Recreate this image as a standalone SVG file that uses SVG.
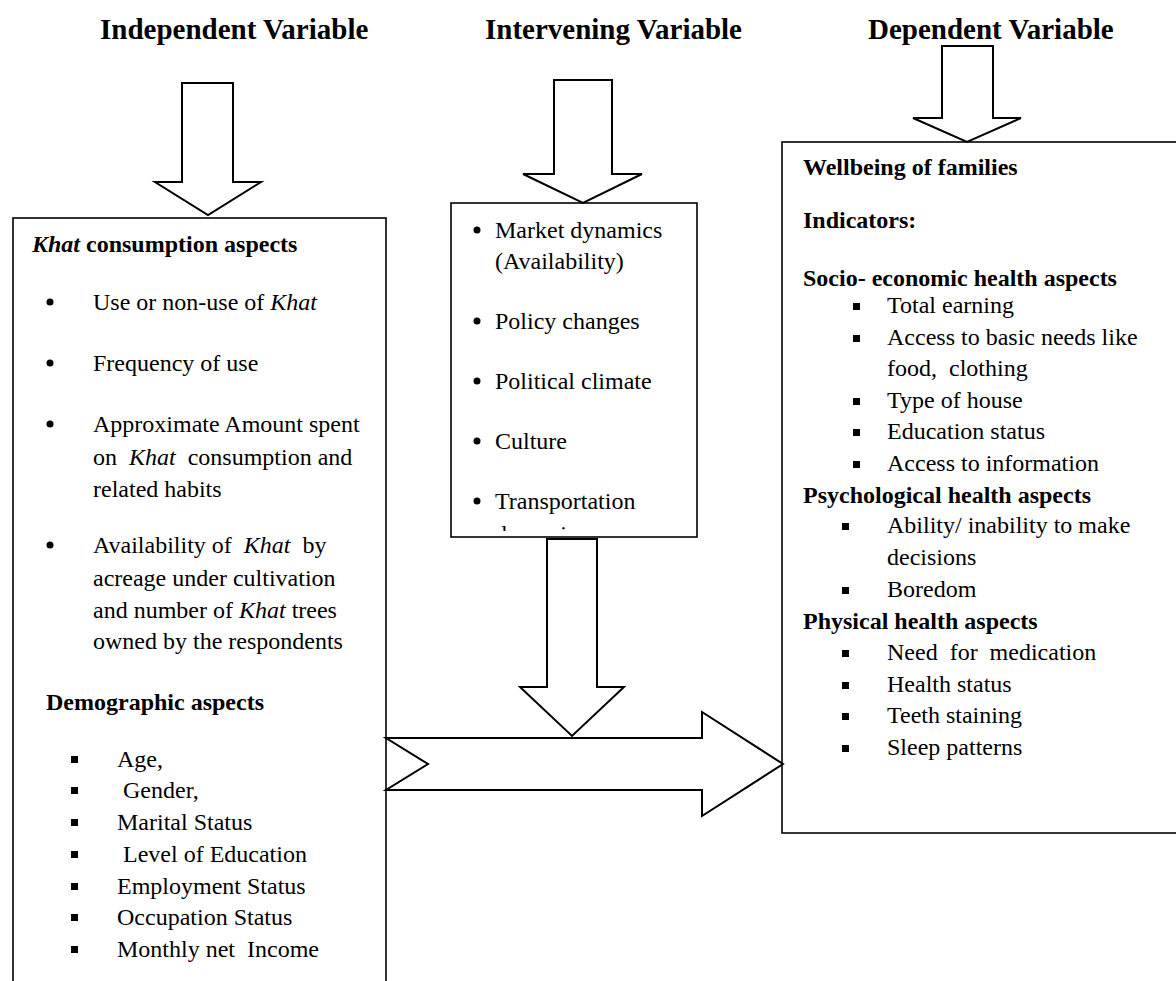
<svg xmlns="http://www.w3.org/2000/svg" width="1176" height="981" viewBox="0 0 1176 981">
<style>
text{font-family:"Liberation Serif","Times New Roman",serif;font-size:24px;fill:#000;white-space:pre}
.t{font-size:29px;font-weight:bold}
.b{font-weight:bold}
.i{font-style:italic}
.box{fill:#fff;stroke:#000;stroke-width:1.6}
.arr{fill:#fff;stroke:#000;stroke-width:2;stroke-linejoin:miter}
.sq{fill:#000}
</style>
<defs>
<clipPath id="clipMid"><rect x="451" y="203" width="246" height="328"/></clipPath>
</defs>
<rect width="1176" height="981" fill="#fff"/>

<g id="titles">
<text class="t" x="100" y="39">Independent Variable</text>
<text class="t" x="485" y="39">Intervening Variable</text>
<text class="t" x="868" y="39">Dependent Variable</text>
</g>

<g id="independent">
<rect class="box" x="13" y="218" width="373" height="780"/>
<text x="32" y="252"><tspan class="b i">Khat</tspan><tspan class="b"> consumption aspects</tspan></text>
<circle cx="50" cy="302" r="3.5"/>
<text x="93" y="310">Use or non-use of <tspan class="i">Khat</tspan></text>
<circle cx="50" cy="363" r="3.5"/>
<text x="93" y="371">Frequency of use</text>
<circle cx="50" cy="424" r="3.5"/>
<text x="93" y="432">Approximate Amount spent</text>
<text x="93" y="465">on  <tspan class="i">Khat</tspan>  consumption and</text>
<text x="93" y="497">related habits</text>
<circle cx="50" cy="545" r="3.5"/>
<text x="93" y="553">Availability of  <tspan class="i">Khat</tspan>  by</text>
<text x="93" y="586">acreage under cultivation</text>
<text x="93" y="618">and number of <tspan class="i">Khat</tspan> trees</text>
<text x="93" y="649">owned by the respondents</text>
<text class="b" x="46" y="710">Demographic aspects</text>
<rect class="sq" x="71" y="756" width="7" height="7"/>
<text x="117" y="767">Age,</text>
<rect class="sq" x="71" y="787" width="7" height="7"/>
<text x="117" y="798"> Gender,</text>
<rect class="sq" x="71" y="819" width="7" height="7"/>
<text x="117" y="830">Marital Status</text>
<rect class="sq" x="71" y="851" width="7" height="7"/>
<text x="117" y="862"> Level of Education</text>
<rect class="sq" x="71" y="883" width="7" height="7"/>
<text x="117" y="894">Employment Status</text>
<rect class="sq" x="71" y="914" width="7" height="7"/>
<text x="117" y="925">Occupation Status</text>
<rect class="sq" x="71" y="946" width="7" height="7"/>
<text x="117" y="957">Monthly net  Income</text>
</g>

<g id="intervening">
<rect class="box" x="451" y="203" width="246" height="334"/>
<circle cx="477" cy="230" r="3.5"/>
<text x="495" y="238">Market dynamics</text>
<text x="495" y="269">(Availability)</text>
<circle cx="477" cy="321" r="3.5"/>
<text x="495" y="329">Policy changes</text>
<circle cx="477" cy="381" r="3.5"/>
<text x="495" y="389">Political climate</text>
<circle cx="477" cy="441" r="3.5"/>
<text x="495" y="449">Culture</text>
<circle cx="477" cy="501" r="3.5"/>
<text x="495" y="509">Transportation</text>
<text x="495" y="542" clip-path="url(#clipMid)">dynamics</text>
</g>

<g id="dependent">
<rect class="box" x="782" y="142" width="410" height="691"/>
<text class="b" x="803" y="175">Wellbeing of families</text>
<text class="b" x="803" y="228">Indicators:</text>
<text class="b" x="803" y="286">Socio- economic health aspects</text>
<rect class="sq" x="853" y="303" width="7" height="7"/>
<text x="887" y="313">Total earning</text>
<rect class="sq" x="853" y="335" width="7" height="7"/>
<text x="887" y="345">Access to basic needs like</text>
<text x="887" y="376">food,  clothing</text>
<rect class="sq" x="853" y="398" width="7" height="7"/>
<text x="887" y="408">Type of house</text>
<rect class="sq" x="853" y="429" width="7" height="7"/>
<text x="887" y="439">Education status</text>
<rect class="sq" x="853" y="461" width="7" height="7"/>
<text x="887" y="471">Access to information</text>
<text class="b" x="803" y="503">Psychological health aspects</text>
<rect class="sq" x="842" y="523" width="7" height="7"/>
<text x="887" y="533">Ability/ inability to make</text>
<text x="887" y="565">decisions</text>
<rect class="sq" x="842" y="587" width="7" height="7"/>
<text x="887" y="597">Boredom</text>
<text class="b" x="803" y="629">Physical health aspects</text>
<rect class="sq" x="842" y="650" width="7" height="7"/>
<text x="887" y="660">Need  for  medication</text>
<rect class="sq" x="842" y="682" width="7" height="7"/>
<text x="887" y="692">Health status</text>
<rect class="sq" x="842" y="713" width="7" height="7"/>
<text x="887" y="723">Teeth staining</text>
<rect class="sq" x="842" y="745" width="7" height="7"/>
<text x="887" y="755">Sleep patterns</text>
</g>

<g id="connectors">
<polygon class="arr" points="182,83 233,83 233,182 261,182 208,215 155,182 182,182"/>
<polygon class="arr" points="554,80 612,80 612,174 642,174 583,203 523,174 554,174"/>
<polygon class="arr" points="942,46 993,46 993,118 1021,118 967,142 913,118 942,118"/>
<polygon class="arr" points="547,539 597,539 597,687 624,687 572,736 520,687 547,687"/>
<polygon class="arr" points="386,738 702,738 702,712 783,764 702,816 702,790 386,790 428,764"/>
</g>
</svg>
